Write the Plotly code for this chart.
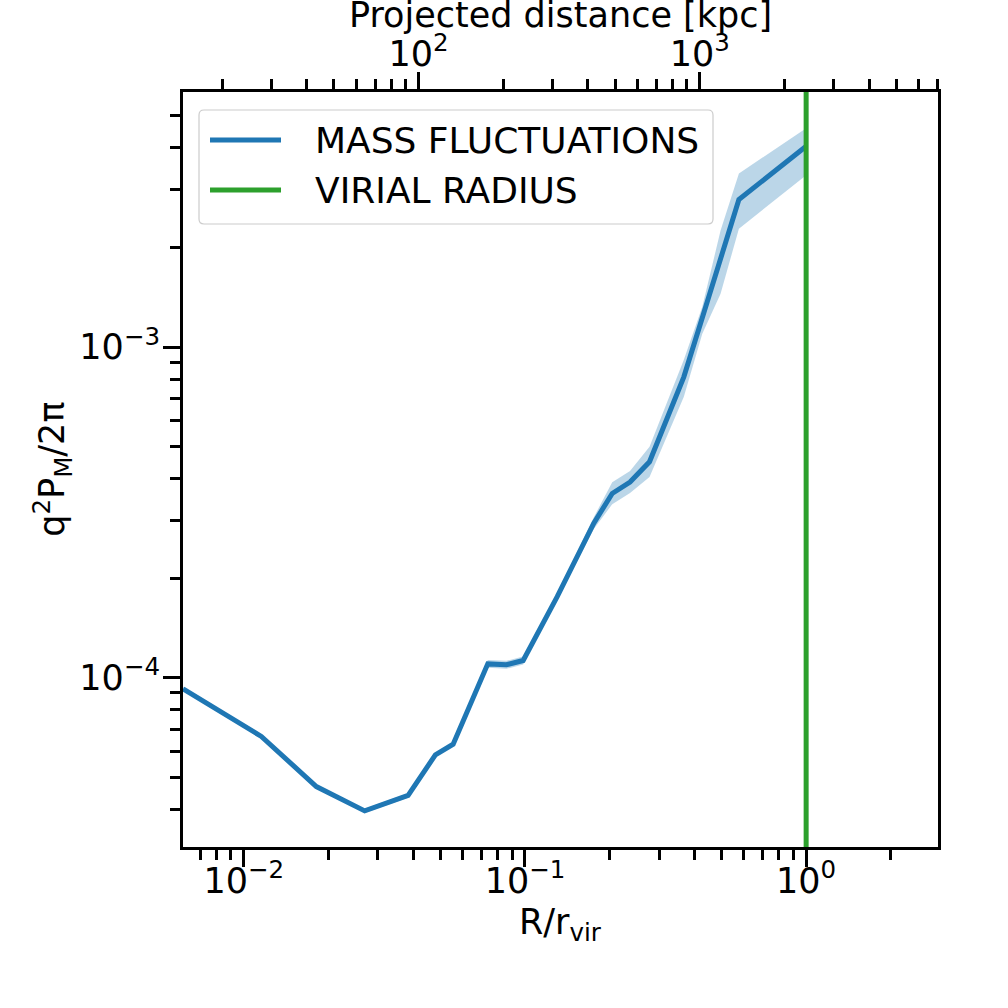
import plotly.graph_objects as go

# ---- data ----
r_over_rvir = [0.00608, 0.01154, 0.01811, 0.02691, 0.03839, 0.04801, 0.05552,
               0.07374, 0.0859, 0.0985, 0.1302, 0.1757, 0.2043, 0.2364, 0.2773,
               0.3673, 0.4272, 0.4962, 0.5766, 1.0]
q2pm = [9.26e-5, 6.65e-5, 4.69e-5, 3.96e-5, 4.41e-5, 5.85e-5, 6.30e-5,
        1.102e-4, 1.095e-4, 1.128e-4, 1.760e-4, 2.934e-4, 3.61e-4, 3.91e-4, 4.50e-4,
        8.13e-4, 1.227e-3, 1.852e-3, 2.793e-3, 4.05e-3]
q2pm_lo = [9.12e-5, 6.55e-5, 4.62e-5, 3.90e-5, 4.34e-5, 5.76e-5, 6.20e-5,
           1.072e-4, 1.065e-4, 1.097e-4, 1.724e-4, 2.82e-4, 3.35e-4, 3.62e-4, 4.05e-4,
           7.08e-4, 1.098e-3, 1.45e-3, 2.28e-3, 3.31e-3]
q2pm_hi = [9.40e-5, 6.75e-5, 4.76e-5, 4.02e-5, 4.48e-5, 5.94e-5, 6.40e-5,
           1.133e-4, 1.126e-4, 1.16e-4, 1.797e-4, 3.06e-4, 3.90e-4, 4.22e-4, 5.00e-4,
           9.15e-4, 1.324e-3, 2.25e-3, 3.35e-3, 4.59e-3]
virial_radius = [1.0, 1.0]
virial_span = [1e-6, 1e-1]
rvir_kpc = 2390.0

legend_labels = ["MASS FLUCTUATIONS", "VIRIAL RADIUS"]

x_tickvals = [0.01, 0.1, 1.0]
x_ticktext = ["10<sup>−2</sup>", "10<sup>−1</sup>", "10<sup>0</sup>"]
x2_tickvals = [100, 1000]
x2_ticktext = ["10<sup>2</sup>", "10<sup>3</sup>"]
y_tickvals = [1e-4, 1e-3]
y_ticktext = ["10<sup>−4</sup>", "10<sup>−3</sup>"]

x_range_log = [-2.2164, 0.469]
y_range_log = [-4.5115, -2.2287]
log_rvir = 3.3784

BLUE = "#1f77b4"
GREEN = "#2ca02c"
FONT = "DejaVu Sans"
TXT = dict(family=FONT, size=35, color="black")

fig = go.Figure()

fig.add_trace(go.Scatter(x=r_over_rvir, y=q2pm_lo, mode="lines",
                         line=dict(width=0, color=BLUE), showlegend=False,
                         hoverinfo="skip"))
fig.add_trace(go.Scatter(x=r_over_rvir, y=q2pm_hi, mode="lines",
                         line=dict(width=0, color=BLUE), fill="tonexty",
                         fillcolor="rgba(31,119,180,0.3)", showlegend=False,
                         hoverinfo="skip"))
fig.add_trace(go.Scatter(x=r_over_rvir, y=q2pm, mode="lines",
                         line=dict(width=5, color=BLUE), name=legend_labels[0],
                         showlegend=False))
fig.add_trace(go.Scatter(x=virial_radius, y=virial_span, mode="lines",
                         line=dict(width=5, color=GREEN), name=legend_labels[1],
                         showlegend=False))
# invisible trace to attach the top (projected distance) axis
fig.add_trace(go.Scatter(x=[r * rvir_kpc for r in r_over_rvir], y=q2pm,
                         xaxis="x2", mode="lines", line=dict(width=0),
                         opacity=0, showlegend=False, hoverinfo="skip"))

tick_common = dict(
    type="log", showgrid=False, zeroline=False,
    showline=True, linecolor="black", linewidth=3,
    ticks="outside", ticklen=17, tickwidth=3, tickcolor="black",
    tickfont=TXT,
    minor=dict(ticks="outside", ticklen=10, tickwidth=2.5, tickcolor="black",
               dtick="D1", showgrid=False),
    automargin=False,
)

# ---- legend (matplotlib-style box drawn in paper coordinates) ----
L, R, B, T = 183.0, 938.0, 847.0, 92.0
W, H = R - L, B - T


def px(xp):
    return (xp - L) / W


def py(yp):
    return (B - yp) / H


bx0, bx1, by0, by1 = px(199), px(713), py(224), py(110)
rx, ry = 5 / W, 5 / H
box_path = (f"M {bx0 + rx},{by0} L {bx1 - rx},{by0} Q {bx1},{by0} {bx1},{by0 + ry} "
            f"L {bx1},{by1 - ry} Q {bx1},{by1} {bx1 - rx},{by1} "
            f"L {bx0 + rx},{by1} Q {bx0},{by1} {bx0},{by1 - ry} "
            f"L {bx0},{by0 + ry} Q {bx0},{by0} {bx0 + rx},{by0} Z")

legend_rows = [(legend_labels[0], BLUE, 140), (legend_labels[1], GREEN, 190)]
shapes = [dict(type="path", path=box_path, xref="paper", yref="paper",
               fillcolor="rgba(255,255,255,0.8)", line=dict(color="#cccccc", width=1.2),
               layer="above")]
annotations = []
for label, color, yrow in legend_rows:
    shapes.append(dict(type="line", xref="paper", yref="paper",
                       x0=px(210), x1=px(281), y0=py(yrow), y1=py(yrow),
                       line=dict(color=color, width=5), layer="above"))
    annotations.append(dict(text=label, xref="paper", yref="paper",
                            x=px(313), y=py(yrow), xanchor="left", yanchor="middle",
                            showarrow=False, font=dict(family=FONT, size=36, color="black")))

annotations += [
    dict(text="Projected distance [kpc]", xref="paper", yref="paper",
         x=0.5, y=1.1020, xanchor="center", yanchor="middle",
         showarrow=False, font=TXT),
    dict(text="R/r<sub>vir</sub>", xref="paper", yref="paper",
         x=0.5, y=-0.103, xanchor="center", yanchor="middle",
         showarrow=False, font=TXT),
    dict(text="q<sup>2</sup>P<sub>M</sub>/2π", xref="paper", yref="paper",
         x=-0.1732, y=0.5, xanchor="center", yanchor="middle", textangle=-90,
         showarrow=False, font=TXT),
]

fig.update_layout(
    width=1008, height=1008,
    margin=dict(l=183, r=70, t=92, b=161),
    paper_bgcolor="white", plot_bgcolor="white",
    font=TXT,
    xaxis=dict(range=x_range_log, tickmode="array", tickvals=x_tickvals,
               ticktext=x_ticktext, ticklabelstandoff=-16, **tick_common),
    xaxis2=dict(range=[x_range_log[0] + log_rvir, x_range_log[1] + log_rvir],
                overlaying="x", side="top", anchor="y", tickmode="array",
                tickvals=x2_tickvals, ticktext=x2_ticktext,
                ticklabelstandoff=-8, **tick_common),
    yaxis=dict(range=y_range_log, mirror=True, tickmode="array",
               tickvals=y_tickvals, ticktext=y_ticktext,
               ticklabelstandoff=-4, **tick_common),
    showlegend=False,
    shapes=shapes,
    annotations=annotations,
)

fig.write_html("out.html", config={"displayModeBar": False},
               post_script="document.body.style.margin='0';document.body.style.overflow='hidden';")
